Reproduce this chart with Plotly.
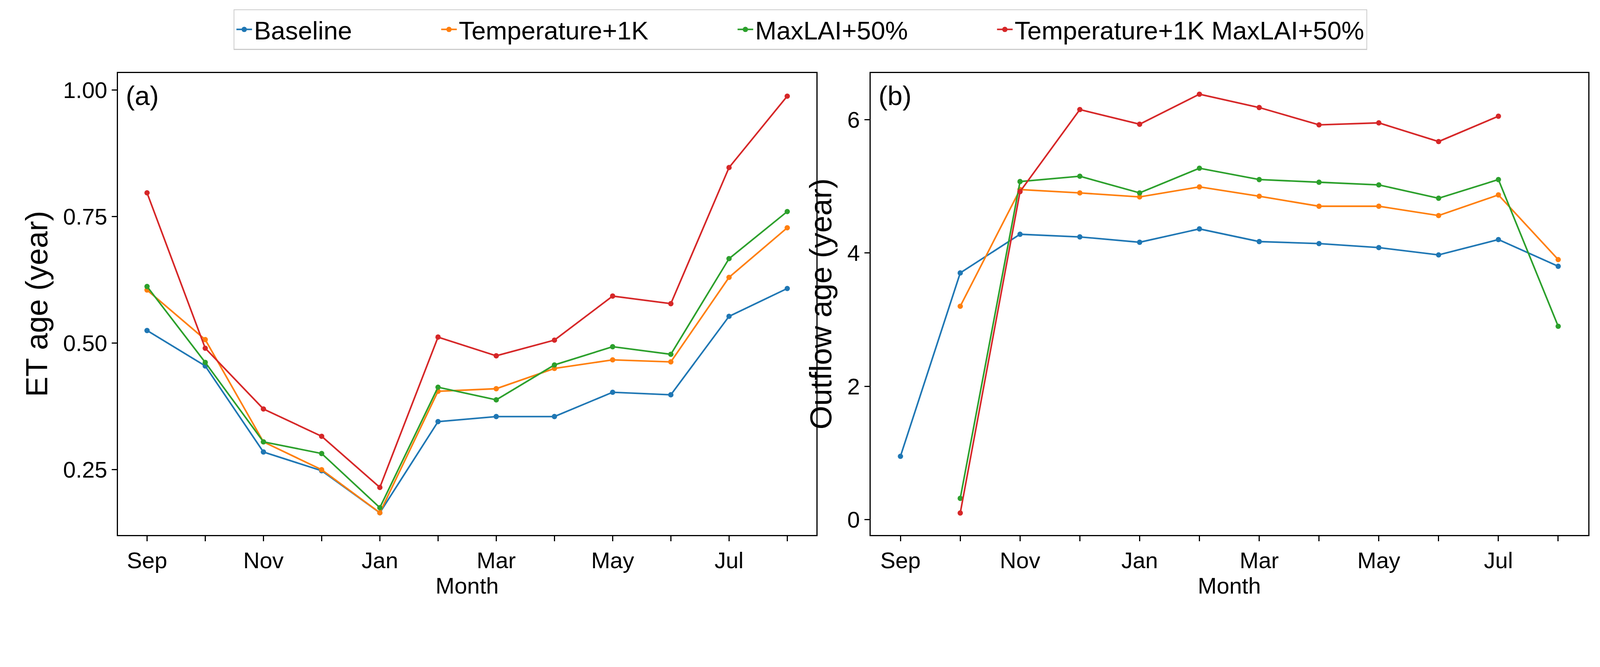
import plotly.graph_objects as go
from plotly.subplots import make_subplots

months = ["Sep","Oct","Nov","Dec","Jan","Feb","Mar","Apr","May","Jun","Jul","Aug"]
tick_text = ["Sep","","Nov","","Jan","","Mar","","May","","Jul",""]
names = ["Baseline","Temperature+1K","MaxLAI+50%","Temperature+1K MaxLAI+50%"]
colors = ["#1f77b4","#ff7f0e","#2ca02c","#d62728"]

et_baseline = [0.525,0.455,0.285,0.248,0.165,0.345,0.355,0.355,0.403,0.398,0.553,0.608]
et_temp     = [0.605,0.507,0.305,0.250,0.165,0.405,0.410,0.450,0.467,0.463,0.630,0.728]
et_lai      = [0.612,0.462,0.305,0.282,0.175,0.413,0.388,0.457,0.493,0.478,0.667,0.760]
et_both     = [0.797,0.490,0.370,0.316,0.215,0.512,0.475,0.506,0.593,0.578,0.847,0.988]

out_baseline = [0.95,3.70,4.28,4.24,4.16,4.36,4.17,4.14,4.08,3.97,4.20,3.80]
out_temp     = [None,3.20,4.95,4.90,4.84,4.99,4.85,4.70,4.70,4.56,4.87,3.90]
out_lai      = [None,0.32,5.07,5.15,4.90,5.27,5.10,5.06,5.02,4.82,5.10,2.90]
out_both     = [None,0.10,4.92,6.15,5.93,6.38,6.18,5.92,5.95,5.67,6.05,None]

s = 1 / 1.1  # page renders ~1.1x larger than CSS size
pad = "\u00a0" * 12

fig = make_subplots(rows=1, cols=2)
x = list(range(12))
for i, (a, b) in enumerate(zip([et_baseline,et_temp,et_lai,et_both],[out_baseline,out_temp,out_lai,out_both])):
    label = names[i] + (pad if i < 3 else "")
    fig.add_trace(go.Scatter(x=x, y=a, mode="lines+markers", name=label,
        line=dict(color=colors[i], width=4.5*s), marker=dict(size=15*s, color=colors[i])), row=1, col=1)
    fig.add_trace(go.Scatter(x=x, y=b, mode="lines+markers", name=label, showlegend=False,
        line=dict(color=colors[i], width=4.5*s), marker=dict(size=15*s, color=colors[i])), row=1, col=2)

font = "Liberation Sans, Arial, sans-serif"
axcommon = dict(showline=True, mirror=True, linecolor="black", linewidth=3*s, ticks="outside",
                ticklen=14*s, tickwidth=3*s, tickcolor="black", showgrid=False, zeroline=False,
                tickfont=dict(size=64*s, color="black"))
fig.update_layout(
    width=round(4490*s), height=round(1708*s), plot_bgcolor="white", paper_bgcolor="white",
    font=dict(family=font, color="black"),
    margin=dict(l=0, r=0, t=0, b=0),
    xaxis=dict(domain=[0.072,0.51], range=[-0.5,11.5], tickvals=x, ticktext=tick_text,
               title=dict(text="Month", font=dict(size=64*s), standoff=3), **axcommon),
    xaxis2=dict(domain=[0.544,0.994], range=[-0.5,11.5], tickvals=x, ticktext=tick_text,
                title=dict(text="Month", font=dict(size=64*s), standoff=3), **axcommon),
    yaxis=dict(domain=[0.123,0.885], range=[0.121,1.034], tickvals=[0.25,0.5,0.75,1.0],
               ticktext=["0.25","0.50","0.75","1.00"],
               title=dict(text="ET age (year)", font=dict(size=86*s), standoff=15), **axcommon),
    yaxis2=dict(domain=[0.123,0.885], range=[-0.23,6.7], tickvals=[0,2,4,6],
                title=dict(text="Outflow age (year)", font=dict(size=86*s), standoff=15), **axcommon),
    legend=dict(orientation="h", x=0.5, xanchor="center", y=0.99, yanchor="top",
                font=dict(size=72*s), bordercolor="#cccccc", borderwidth=3*s,
                itemwidth=40),
    annotations=[
        dict(text="(a)", xref="x domain", yref="y domain", x=0.01, y=0.985, xanchor="left",
             yanchor="top", showarrow=False, font=dict(size=76*s)),
        dict(text="(b)", xref="x2 domain", yref="y2 domain", x=0.01, y=0.985, xanchor="left",
             yanchor="top", showarrow=False, font=dict(size=76*s)),
    ],
)
fig.write_html("out.html")
